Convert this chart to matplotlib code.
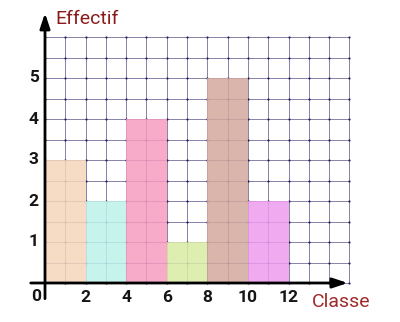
import matplotlib
matplotlib.use("Agg")
import matplotlib.pyplot as plt
import numpy as np

# histogram data
class_edges = [0, 2, 4, 6, 8, 10, 12]
effectifs = [3, 2, 4, 1, 5, 2]
bar_colors = ["#f6d6bb", "#bdf2ea", "#f79cc0", "#d9eca4", "#d4a89e", "#ee9cee"]
x_ticks = [2, 4, 6, 8, 10, 12]
y_ticks = [1, 2, 3, 4, 5]

plt.rcParams["font.family"] = ["Roboto", "DejaVu Sans"]

fig = plt.figure(figsize=(4.0, 3.22), dpi=100)
ax = fig.add_axes([0, 0, 1, 1])
ax.set_xlim(-45 / 20.3, (400 - 45) / 20.3)
ax.set_ylim(-39 / 41, 283 / 41)
ax.axis("off")

# grid paper
grid_col = "#5c5488"
for gx in np.arange(0, 16, 1):
    ax.plot([gx, gx], [0, 6], color=grid_col, lw=0.6, alpha=0.85, zorder=1)
for gy in np.arange(0, 6.01, 0.5):
    ax.plot([0, 15], [gy, gy], color=grid_col, lw=0.6, alpha=0.85, zorder=1)
gxx, gyy = np.meshgrid(np.arange(0, 16, 1), np.arange(0, 6.01, 0.5))
ax.scatter(gxx.ravel(), gyy.ravel(), s=2.5, color="#2a2258", zorder=1.5, lw=0)

# bars
for left, right, h, c in zip(class_edges[:-1], class_edges[1:], effectifs, bar_colors):
    ax.bar(left, h, width=right - left, align="edge", color=c, alpha=0.85,
           lw=0, zorder=2)

# axes arrows
ax.annotate("", xy=(15.05, 0), xytext=(-0.84, 0),
            arrowprops=dict(arrowstyle="-|>,head_length=0.9,head_width=0.3",
                            color="black", lw=2), zorder=5)
ax.annotate("", xy=(0, 6.65), xytext=(0, -0.45),
            arrowprops=dict(arrowstyle="-|>,head_length=0.9,head_width=0.3",
                            color="black", lw=2), zorder=5)

# tick labels
for t in x_ticks:
    ax.text(t, -0.36, str(t), ha="center", va="center", fontsize=12.5,
            fontweight="bold", color="#151515")
for t in y_ticks:
    ax.text(-0.55, t, str(t), ha="center", va="center", fontsize=12.5,
            fontweight="bold", color="#151515")
ax.text(-0.45, -0.32, "0", ha="center", va="center", fontsize=12.5,
        fontweight="bold", color="#151515")

# axis titles
ax.text(0.5, 6.43, "Effectif", ha="left", va="center", fontsize=14,
        color="#8c1c1c")
ax.text(13.15, -0.46, "Classe", ha="left", va="center", fontsize=14,
        color="#a02a2a")

fig.savefig("out.png", dpi=100)
